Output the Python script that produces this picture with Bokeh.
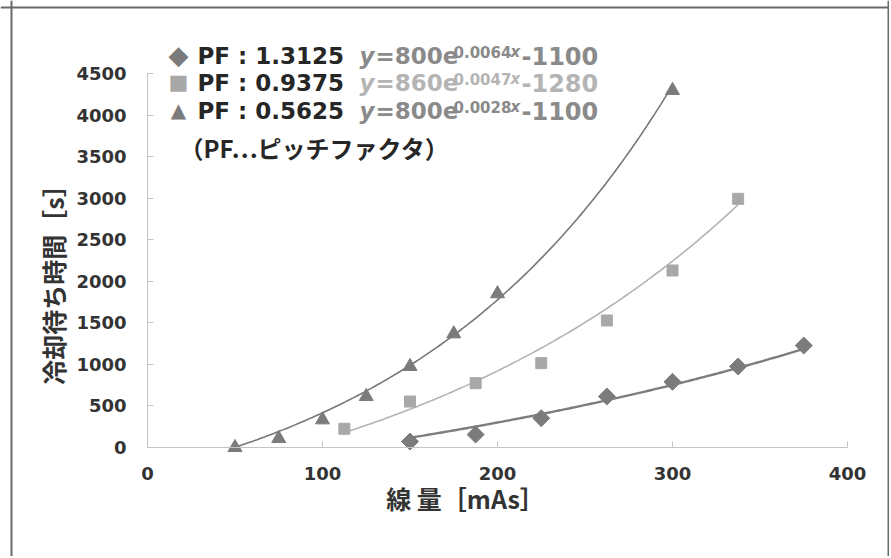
import numpy as np
from bokeh.plotting import figure
from bokeh.models import Range1d, FixedTicker, Label, Span
from bokeh.embed import file_html
from bokeh.resources import INLINE

# ---- data ----
dia_x = [150, 187.5, 225, 262.5, 300, 337.5, 375]
dia_y = [72, 156, 353, 614, 790, 975, 1227]
sq_x = [112.5, 150, 187.5, 225, 262.5, 300, 337.5]
sq_y = [225, 553, 774, 1015, 1528, 2130, 2992]
tri_x = [50, 75, 100, 125, 150, 175, 200, 300]
tri_y = [0, 108, 333, 614, 975, 1368, 1850, 4296]

# trend lines y = a*exp(b*x) - c (as printed on the chart)
trend_a = [800, 860, 800]
trend_b = [0.0064, 0.0047, 0.0028]
trend_c = [1100, 1280, 1100]
eq_a_txt = ["800", "860", "800"]
eq_b_txt = ["0.0064", "0.0047", "0.0028"]
eq_c_txt = ["1100", "1280", "1100"]
pf_labels = ["PF : 1.3125", "PF : 0.9375", "PF : 0.5625"]
pf_note = "（PF…ピッチファクタ）"

x_ticks = [0, 100, 200, 300, 400]
y_ticks = [0, 500, 1000, 1500, 2000, 2500, 3000, 3500, 4000, 4500]
x_title = "線 量［mAs］"
y_title = "冷却待ち時間［s］"

DARK = "#7b7b7b"
LIGHT = "#a8a8a8"
LATIN = "DejaVu Sans"
CJK = "Noto Sans CJK JP"

# ---- layout: the frame covers the whole canvas, axes are pinned at 0 ----
W, H = 889, 556
X0, XPX = 147.0, 1.75           # pixel of x=0, pixels per x unit
Y0, YPX = 447.0, 374.0 / 4500   # pixel of y=0, pixels per y unit
x_rng = Range1d(-X0 / XPX, (W - X0) / XPX)
y_rng = Range1d(-(H - Y0) / YPX, Y0 / YPX)

p = figure(width=W, height=H, x_range=x_rng, y_range=y_rng,
           output_backend="svg", toolbar_location=None,
           min_border_left=0, min_border_right=0, min_border_top=0, min_border_bottom=0)
p.title.visible = False
p.grid.visible = False
p.outline_line_color = None
p.background_fill_color = "white"
p.border_fill_color = "white"

for ax in (p.xaxis[0], p.yaxis[0]):
    ax.fixed_location = 0
    ax.axis_line_color = "#c4c4c4"
    ax.major_tick_line_color = "#c4c4c4"
    ax.major_tick_in = 6
    ax.major_tick_out = 0
    ax.minor_tick_line_color = None
    ax.major_label_text_font = LATIN
    ax.major_label_text_font_style = "bold"
    ax.major_label_text_font_size = "18px"
    ax.major_label_text_color = "#333333"

p.xaxis.ticker = FixedTicker(ticks=x_ticks)
p.xaxis.bounds = (0, 400)
p.xaxis.major_label_standoff = 19
p.yaxis.ticker = FixedTicker(ticks=y_ticks)
p.yaxis.bounds = (0, 4500)
p.yaxis.major_label_standoff = 21

# outer frame (left, right, top)
def px_to_x(px):
    return (px - X0) / XPX

def py_to_y(py):
    return (Y0 - py) / YPX

for loc in (px_to_x(11), px_to_x(888)):
    p.add_layout(Span(location=loc, dimension="height", line_color="#6a6a6a", line_width=2))
p.add_layout(Span(location=py_to_y(7), dimension="width", line_color="#6a6a6a", line_width=2))

# trend lines
ranges = [(tri_x[0], tri_x[-1]), (sq_x[0], sq_x[-1]), (dia_x[0], dia_x[-1])]
line_cols = ["#777777", "#b3b3b3", "#7d7d7d"]
line_w = [1.6, 1.6, 2.4]
for i in range(3):
    xs = np.linspace(ranges[i][0], ranges[i][1], 120)
    ys = trend_a[i] * np.exp(trend_b[i] * xs) - trend_c[i]
    p.line(xs, ys, line_color=line_cols[i], line_width=line_w[i])

p.scatter(dia_x, dia_y, marker="square", angle=np.pi / 4, size=12, fill_color=DARK, line_color=DARK)
p.scatter(sq_x, sq_y, marker="square", size=11, fill_color=LIGHT, line_color=LIGHT)
p.scatter(tri_x, tri_y, marker="triangle", size=14, fill_color=DARK, line_color=DARK)


def lab(px, py, text, **kw):
    # px, py: pixel position on the canvas (top-left origin)
    p.add_layout(Label(x=px, y=H - py, x_units="screen", y_units="screen", text=text,
                       text_baseline="middle", **kw))


# axis titles
lab(52, 278, y_title, angle=np.pi / 2, text_align="center",
    text_font=CJK, text_font_style="bold", text_font_size="25px", text_color="#333333")
lab(465, 497, x_title, text_align="center",
    text_font=CJK, text_font_style="bold", text_font_size="25px", text_color="#333333")

# legend block
sym = ["◆", "■", "▲"]
sym_size = ["26px", "21px", "20px"]
sym_col = [DARK, LIGHT, DARK]
eq_col = ["#8a8a8a", "#b4b4b4", "#8a8a8a"]
rows = [55, 82, 110]   # row centres (pixels from top)
for i in range(3):
    r = rows[i]
    lab(178, r - 1, sym[i], text_align="center", text_font=LATIN,
        text_font_size=sym_size[i], text_color=sym_col[i])
    lab(197, r, pf_labels[i], text_font=LATIN, text_font_style="bold",
        text_font_size="23px", text_color="#262626")
    lab(359, r, "y", text_font=LATIN, text_font_style="bold italic",
        text_font_size="23px", text_color=eq_col[i])
    lab(375, r, "=" + eq_a_txt[i] + "e", text_font=LATIN,
        text_font_style="bold", text_font_size="23px", text_color=eq_col[i])
    lab(453, r - 4, eq_b_txt[i], text_font=LATIN,
        text_font_style="bold", text_font_size="15px", text_color=eq_col[i])
    lab(510, r - 4, "x", text_font=LATIN,
        text_font_style="bold italic", text_font_size="15px", text_color=eq_col[i])
    lab(521, r, "-" + eq_c_txt[i], text_font=LATIN,
        text_font_style="bold", text_font_size="24px", text_color=eq_col[i])

lab(179, 147, pf_note, text_font=CJK, text_font_style="bold",
    text_font_size="24px", text_color="#262626")

open("out.html", "w").write(file_html(p, INLINE))
